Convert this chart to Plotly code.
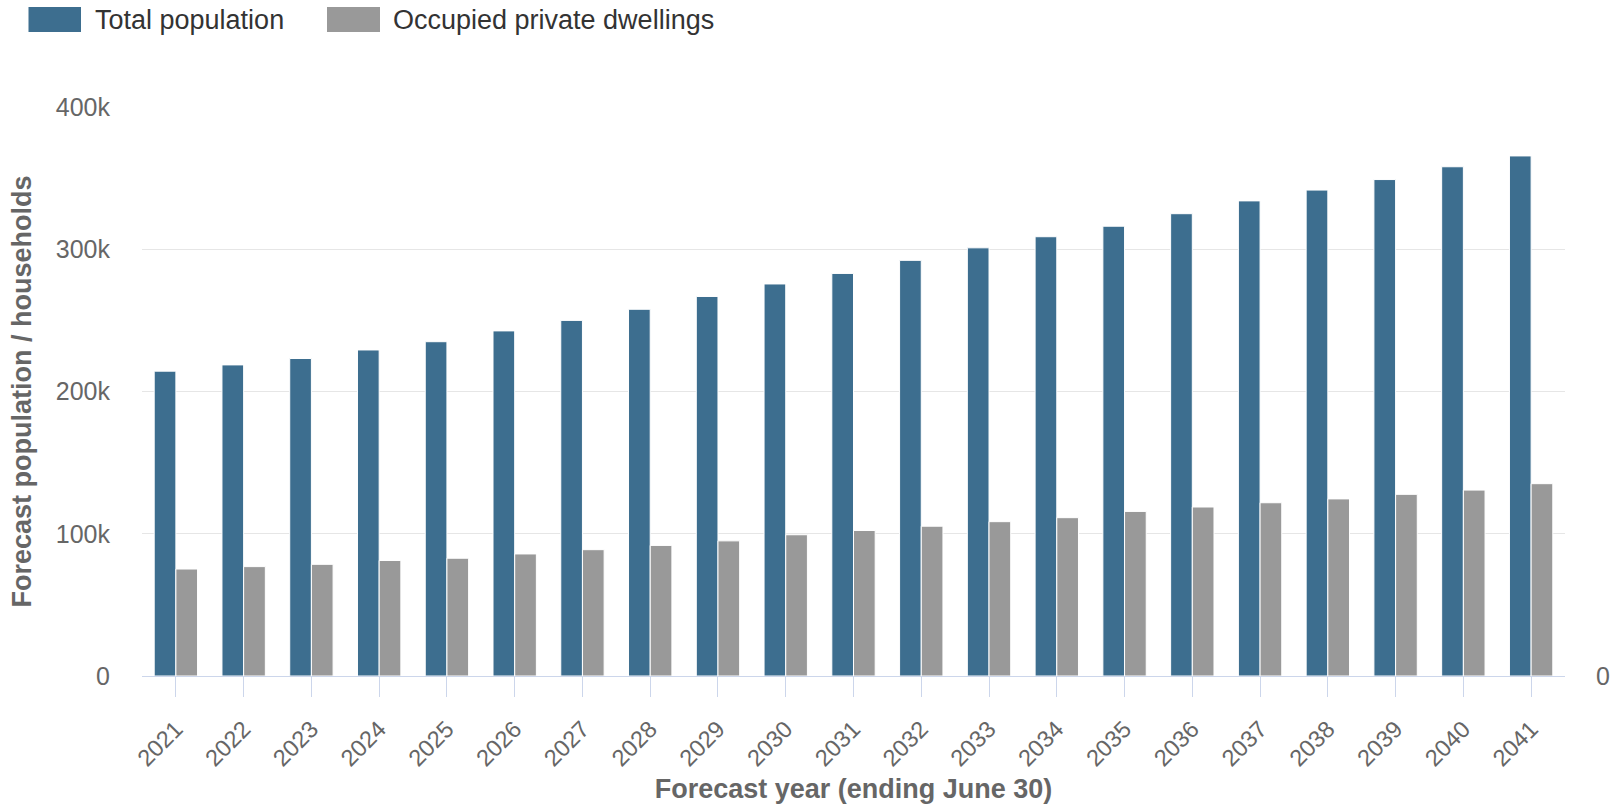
import plotly.graph_objects as go

years = [str(y) for y in range(2021, 2042)]
total_population = [214300, 218700, 223200, 229200, 235000, 242600, 250000, 257800,
                    266800, 275600, 283000, 292200, 301000, 308800, 316200, 325000,
                    334000, 341600, 349000, 358000, 365600]
occupied_dwellings = [75200, 76900, 78500, 81200, 82800, 85800, 88800, 91800,
                      95000, 99300, 102300, 105300, 108500, 111300, 115700, 118800,
                      121800, 124500, 127700, 130700, 135200]
series_names = ["Total population", "Occupied private dwellings"]
y_tick_values = [0, 100000, 200000, 300000, 400000]
y_tick_labels = ["0", "100k", "200k", "300k", "400k"]

BLUE = "#3d6e8f"
GREY = "#999999"
W, H = 1618, 804
L, R, T, B = 142, 53, 107, 128
FONT = "Liberation Sans, Arial, sans-serif"

pw = W - L - R
ph = H - T - B


def px_x(x):
    return (x - L) / pw


def px_y(y):
    return (H - B - y) / ph


fig = go.Figure()
fig.add_trace(go.Bar(x=years, y=total_population, name=series_names[0],
                     marker=dict(color=BLUE, line=dict(color="#ffffff", width=1)),
                     showlegend=False))
fig.add_trace(go.Bar(x=years, y=occupied_dwellings, name=series_names[1],
                     marker=dict(color=GREY, line=dict(color="#ffffff", width=1)),
                     showlegend=False))
# empty series bound to the (empty) right-hand axis so that it is drawn
fig.add_trace(go.Scatter(x=[years[0]], y=[None], yaxis="y2", mode="markers",
                         showlegend=False, hoverinfo="skip"))

# custom legend (swatches + labels)
legend_items = [(28.5, 81, 93, BLUE, series_names[0]),
                (327, 380, 391, GREY, series_names[1])]
for x0, x1, tx, col, name in legend_items:
    fig.add_shape(type="rect", xref="paper", yref="paper",
                  x0=px_x(x0), x1=px_x(x1), y0=px_y(32), y1=px_y(7),
                  fillcolor=col, line=dict(width=0), layer="above")
    fig.add_annotation(xref="paper", yref="paper", x=px_x(tx), y=px_y(20),
                       xanchor="left", yanchor="middle", showarrow=False,
                       text=name, font=dict(family=FONT, size=27, color="#333333"))

fig.update_layout(
    width=W, height=H,
    margin=dict(l=L, r=R, t=T, b=B, autoexpand=False),
    paper_bgcolor="white", plot_bgcolor="white",
    barmode="group", bargap=0.36, bargroupgap=0,
    font=dict(family=FONT, color="#666666"),
    xaxis=dict(
        type="category",
        range=[-0.5, len(years) - 0.5],
        showgrid=False,
        showline=True, linecolor="#ccd6eb", linewidth=1,
        ticks="outside", ticklen=20, tickcolor="#ccd6eb", tickwidth=1,
        tickangle=-45, ticklabelstandoff=9,
        tickfont=dict(family=FONT, size=23.5, color="#666666"),
        title=dict(text="<b>Forecast year (ending June 30)</b>",
                   font=dict(family=FONT, size=27, color="#666666"),
                   standoff=18),
        automargin=False,
    ),
    yaxis=dict(
        range=[0, 400000],
        tickvals=y_tick_values, ticktext=y_tick_labels,
        showgrid=True, gridcolor="#e6e6e6", gridwidth=1,
        zeroline=False, showline=False,
        ticks="", ticklabelstandoff=31,
        tickfont=dict(family=FONT, size=25, color="#666666"),
        title=dict(text="<b>Forecast population / households</b>",
                   font=dict(family=FONT, size=27, color="#666666"),
                   standoff=16),
        automargin=False,
    ),
    yaxis2=dict(
        overlaying="y", side="right", range=[0, 1],
        tickvals=[0], ticktext=["0"], showgrid=False, zeroline=False,
        showline=False, ticks="", ticklabelstandoff=30,
        tickfont=dict(family=FONT, size=25, color="#666666"),
        automargin=False,
    ),
)

fig.write_html("out.html",
               config={"displayModeBar": False},
               post_script="document.body.style.margin='0';document.body.style.overflow='hidden';")
